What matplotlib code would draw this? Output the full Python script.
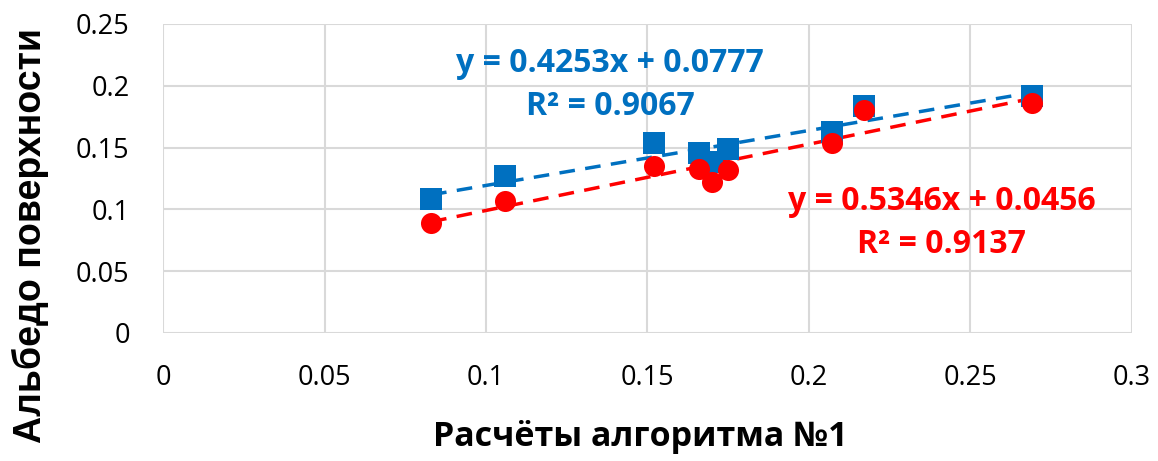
import matplotlib.pyplot as plt
import numpy as np

plt.rcParams['font.family'] = ['Open Sans', 'DejaVu Sans']

# Data
x_vals = [0.083, 0.106, 0.152, 0.166, 0.170, 0.175, 0.207, 0.217, 0.269]
blue_y = [0.108, 0.127, 0.154, 0.146, 0.138, 0.149, 0.163, 0.184, 0.192]
red_y = [0.089, 0.107, 0.135, 0.133, 0.122, 0.132, 0.154, 0.180, 0.186]

blue_eq = ['y = 0.4253x + 0.0777', 'R² = 0.9067']
red_eq = ['y = 0.5346x + 0.0456', 'R² = 0.9137']

BLUE = '#0070C0'
RED = '#FF0000'
GRID = '#D9D9D9'

fig = plt.figure(figsize=(11.58, 4.61), dpi=100)
ax = fig.add_axes([0.1408, 0.2777, 0.8367, 0.6703])

x = np.array(x_vals)
xs = np.array([x.min(), x.max()])
for ys, col, mk in [(blue_y, BLUE, 's'), (red_y, RED, 'o')]:
    k, b = np.polyfit(x, ys, 1)
    ax.plot(xs, k * xs + b, color=col, lw=2.5, ls=(0, (4.5, 3)), zorder=2)
    ax.scatter(x, ys, color=col, marker=mk, s=230, zorder=3, linewidths=0)

# trendline labels (two lines each)
for (eq, r2), col, tx, ty1, ty2 in [(blue_eq, BLUE, 0.1384, 0.2184, 0.183),
                                      (red_eq, RED, 0.241, 0.106, 0.0712)]:
    ax.text(tx, ty1, eq, color=col, fontsize=23, fontweight='bold', ha='center', va='center')
    ax.text(tx, ty2, r2, color=col, fontsize=23, fontweight='bold', ha='center', va='center')

ax.set_xlim(0, 0.3)
ax.set_ylim(0, 0.25)
ax.set_xticks(np.arange(0, 0.31, 0.05))
ax.set_yticks(np.arange(0, 0.26, 0.05))
ax.set_xticklabels(['0', '0.05', '0.1', '0.15', '0.2', '0.25', '0.3'])
ax.set_yticklabels(['0', '0.05', '0.1', '0.15', '0.2', '0.25'])
ax.tick_params(axis='x', length=0, labelsize=19.5, pad=22)
ax.tick_params(axis='y', length=0, labelsize=19.5, pad=24)
ax.grid(True, color=GRID, lw=1.5)
ax.set_axisbelow(True)
for s in ax.spines.values():
    s.set_visible(False)

# axis titles placed like in the source chart
fig.text(640 / 1158, 1 - 437 / 461, 'Расчёты алгоритма №1', fontsize=24.5,
         fontweight='bold', ha='center', va='center')
fig.text(30 / 1158, 1 - 235 / 461, 'Альбедо поверхности', fontsize=27,
         fontweight='bold', family=['Liberation Sans', 'DejaVu Sans'],
         rotation=90, ha='center', va='center')

fig.savefig('out.png', dpi=100)
